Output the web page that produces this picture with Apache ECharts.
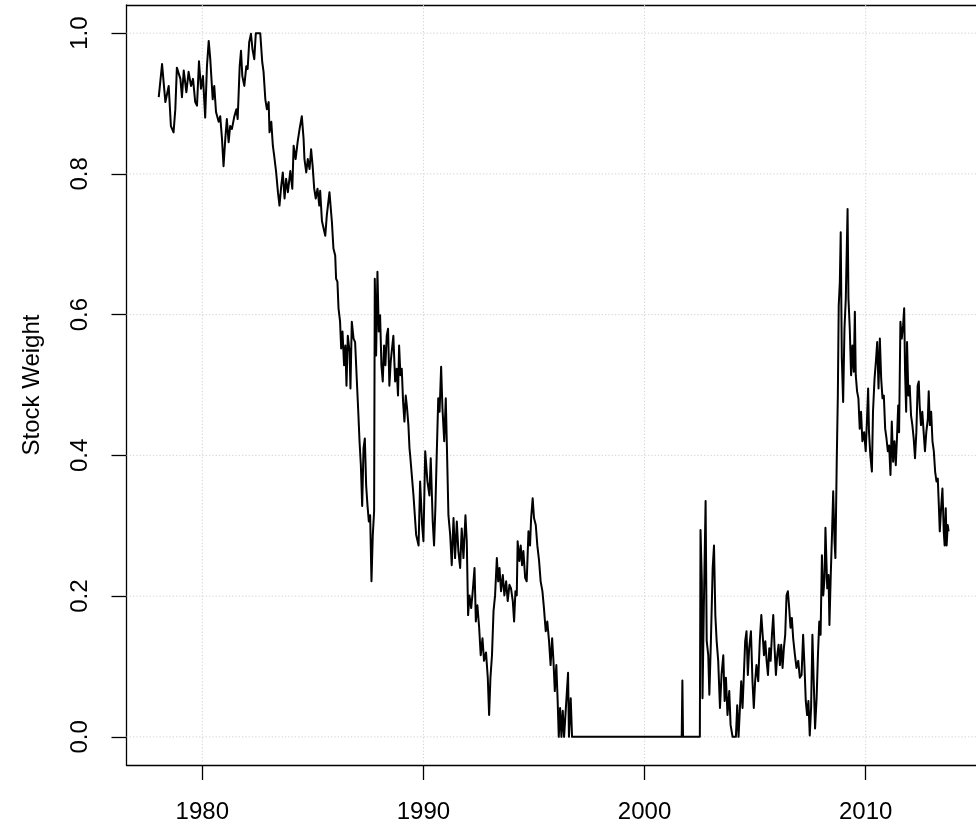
<!DOCTYPE html>
<html>
<head>
<meta charset="utf-8">
<script src="https://cdn.jsdelivr.net/npm/echarts@6/dist/echarts.min.js"></script>
<style>
  html, body { margin: 0; padding: 0; background: #ffffff; }
  #chart { width: 976px; height: 824px; }
</style>
</head>
<body>
<div id="chart"></div>
<script>
// Stock weight of the portfolio over time (decimal years)
const years = [
  1978.03,1978.18,1978.33,1978.48,1978.58,1978.70,1978.78,1978.85,1979.01,1979.08,
  1979.16,1979.28,1979.38,1979.49,1979.58,1979.68,1979.76,1979.85,1979.94,1980.03,
  1980.13,1980.21,1980.29,1980.36,1980.47,1980.54,1980.62,1980.74,1980.81,1980.89,
  1980.96,1981.04,1981.11,1981.19,1981.26,1981.34,1981.45,1981.54,1981.60,1981.69,
  1981.75,1981.81,1981.90,1981.99,1982.05,1982.12,1982.20,1982.27,1982.35,1982.42,
  1982.62,1982.71,1982.77,1982.85,1982.92,1983.00,1983.04,1983.12,1983.19,1983.25,
  1983.34,1983.42,1983.49,1983.57,1983.64,1983.72,1983.79,1983.87,1983.98,1984.07,
  1984.13,1984.22,1984.31,1984.40,1984.50,1984.58,1984.62,1984.70,1984.77,1984.85,
  1984.92,1984.99,1985.06,1985.13,1985.21,1985.29,1985.33,1985.41,1985.56,1985.63,
  1985.75,1985.86,1985.93,1986.01,1986.05,1986.11,1986.16,1986.23,1986.28,1986.34,
  1986.41,1986.47,1986.52,1986.58,1986.66,1986.70,1986.76,1986.84,1986.91,1986.99,
  1987.06,1987.11,1987.17,1987.23,1987.29,1987.35,1987.41,1987.47,1987.53,1987.59,
  1987.65,1987.71,1987.77,1987.80,1987.86,1987.92,1987.98,1988.04,1988.10,1988.16,
  1988.22,1988.28,1988.34,1988.40,1988.46,1988.52,1988.58,1988.64,1988.72,1988.79,
  1988.85,1988.90,1988.96,1989.02,1989.08,1989.14,1989.20,1989.26,1989.32,1989.37,
  1989.40,1989.55,1989.67,1989.78,1989.85,1989.94,1990.00,1990.08,1990.18,1990.27,
  1990.33,1990.42,1990.48,1990.54,1990.60,1990.67,1990.73,1990.80,1990.86,1990.94,
  1991.01,1991.06,1991.13,1991.21,1991.28,1991.36,1991.43,1991.51,1991.58,1991.66,
  1991.73,1991.81,1991.90,1991.96,1992.02,1992.08,1992.16,1992.23,1992.31,1992.37,
  1992.44,1992.52,1992.59,1992.67,1992.74,1992.83,1992.91,1992.97,1993.03,1993.10,
  1993.17,1993.24,1993.32,1993.38,1993.44,1993.51,1993.59,1993.66,1993.74,1993.81,
  1993.89,1993.96,1994.04,1994.10,1994.16,1994.22,1994.26,1994.34,1994.40,1994.46,
  1994.52,1994.60,1994.67,1994.75,1994.82,1994.87,1994.94,1995.00,1995.08,1995.15,
  1995.23,1995.30,1995.38,1995.45,1995.53,1995.60,1995.68,1995.75,1995.82,1995.88,
  1995.94,1996.01,1996.07,1996.12,1996.18,1996.24,1996.30,1996.36,1996.45,1996.54,
  1996.58,1996.66,1996.72,2001.68,2001.71,2001.74,2002.50,2002.53,2002.59,2002.62,
  2002.68,2002.76,2002.81,2002.88,2002.93,2003.00,2003.08,2003.14,2003.20,2003.26,
  2003.33,2003.41,2003.48,2003.56,2003.62,2003.68,2003.75,2003.83,2003.89,2003.98,
  2004.13,2004.19,2004.25,2004.31,2004.37,2004.43,2004.49,2004.55,2004.61,2004.67,
  2004.73,2004.81,2004.88,2004.94,2005.00,2005.06,2005.14,2005.21,2005.28,2005.34,
  2005.40,2005.46,2005.52,2005.58,2005.64,2005.70,2005.76,2005.82,2005.88,2005.94,
  2006.00,2006.06,2006.12,2006.18,2006.24,2006.30,2006.36,2006.42,2006.48,2006.54,
  2006.60,2006.66,2006.72,2006.80,2006.87,2006.95,2007.02,2007.10,2007.17,2007.23,
  2007.29,2007.35,2007.41,2007.47,2007.53,2007.59,2007.65,2007.71,2007.78,2007.84,
  2007.90,2007.96,2008.02,2008.08,2008.14,2008.18,2008.26,2008.32,2008.36,2008.42,
  2008.48,2008.53,2008.59,2008.63,2008.69,2008.74,2008.78,2008.83,2008.87,2008.92,
  2008.98,2009.04,2009.10,2009.18,2009.22,2009.28,2009.34,2009.40,2009.46,2009.51,
  2009.55,2009.61,2009.67,2009.73,2009.79,2009.85,2009.93,2010.00,2010.06,2010.11,
  2010.15,2010.21,2010.28,2010.33,2010.40,2010.46,2010.52,2010.58,2010.64,2010.70,
  2010.76,2010.82,2010.88,2010.94,2011.00,2011.06,2011.12,2011.18,2011.24,2011.30,
  2011.36,2011.42,2011.47,2011.51,2011.57,2011.63,2011.69,2011.74,2011.78,2011.83,
  2011.87,2011.93,2011.99,2012.05,2012.11,2012.17,2012.23,2012.29,2012.35,2012.40,
  2012.44,2012.50,2012.56,2012.62,2012.68,2012.74,2012.81,2012.85,2012.90,2012.96,
  2013.02,2013.08,2013.14,2013.20,2013.26,2013.30,2013.35,2013.41,2013.47,2013.53,
  2013.57,2013.62,2013.66,2013.71,2013.75
];
const weights = [
  0.909,0.956,0.902,0.925,0.868,0.859,0.892,0.951,0.935,0.909,
  0.947,0.916,0.945,0.925,0.935,0.902,0.897,0.960,0.921,0.939,
  0.880,0.953,0.989,0.963,0.906,0.925,0.888,0.874,0.882,0.850,
  0.811,0.850,0.878,0.845,0.868,0.864,0.882,0.892,0.878,0.953,
  0.975,0.939,0.925,0.953,0.949,0.987,0.999,0.977,0.963,1.000,
  1.000,0.959,0.945,0.906,0.892,0.902,0.859,0.874,0.840,0.826,
  0.802,0.774,0.755,0.783,0.802,0.765,0.793,0.774,0.804,0.779,
  0.840,0.821,0.845,0.864,0.882,0.850,0.821,0.802,0.821,0.807,
  0.835,0.811,0.779,0.765,0.779,0.755,0.776,0.733,0.712,0.741,
  0.774,0.732,0.694,0.684,0.651,0.647,0.609,0.590,0.552,0.576,
  0.528,0.556,0.499,0.570,0.547,0.495,0.590,0.566,0.561,0.505,
  0.457,0.420,0.386,0.328,0.410,0.424,0.357,0.329,0.306,0.315,
  0.221,0.287,0.321,0.651,0.542,0.661,0.576,0.599,0.528,0.505,
  0.556,0.528,0.570,0.580,0.499,0.533,0.552,0.570,0.505,0.523,
  0.485,0.556,0.514,0.523,0.476,0.448,0.485,0.467,0.443,0.410,
  0.400,0.343,0.287,0.272,0.363,0.301,0.278,0.406,0.363,0.343,
  0.396,0.306,0.272,0.325,0.400,0.481,0.462,0.526,0.467,0.420,
  0.481,0.414,0.315,0.287,0.244,0.311,0.254,0.306,0.264,0.240,
  0.296,0.254,0.315,0.278,0.173,0.201,0.183,0.207,0.240,0.164,
  0.187,0.155,0.116,0.140,0.108,0.120,0.084,0.031,0.084,0.116,
  0.179,0.201,0.254,0.221,0.240,0.207,0.230,0.201,0.221,0.193,
  0.216,0.211,0.193,0.164,0.207,0.201,0.278,0.250,0.272,0.244,
  0.264,0.226,0.221,0.292,0.272,0.311,0.339,0.311,0.301,0.272,
  0.250,0.221,0.207,0.183,0.150,0.164,0.136,0.102,0.140,0.108,
  0.065,0.102,0.051,0.000,0.041,0.000,0.037,0.000,0.000,0.091,
  0.000,0.055,0.000,0.000,0.080,0.000,0.000,0.294,0.221,0.055,
  0.183,0.335,0.136,0.116,0.060,0.136,0.240,0.272,0.173,0.136,
  0.108,0.041,0.088,0.116,0.051,0.084,0.031,0.065,0.017,0.000,
  0.000,0.045,0.000,0.002,0.079,0.041,0.088,0.136,0.150,0.088,
  0.126,0.150,0.079,0.041,0.079,0.102,0.079,0.136,0.173,0.145,
  0.116,0.136,0.108,0.088,0.126,0.108,0.145,0.173,0.126,0.088,
  0.116,0.131,0.102,0.131,0.098,0.126,0.145,0.201,0.207,0.183,
  0.155,0.169,0.140,0.116,0.098,0.108,0.084,0.088,0.145,0.102,
  0.051,0.031,0.051,0.002,0.041,0.145,0.079,0.012,0.055,0.116,
  0.164,0.145,0.258,0.201,0.226,0.297,0.211,0.230,0.159,0.230,
  0.292,0.349,0.278,0.254,0.391,0.485,0.613,0.646,0.717,0.538,
  0.476,0.580,0.623,0.750,0.623,0.580,0.514,0.556,0.519,0.604,
  0.514,0.491,0.481,0.438,0.462,0.420,0.433,0.406,0.452,0.495,
  0.433,0.400,0.377,0.462,0.509,0.533,0.561,0.495,0.566,0.509,
  0.481,0.485,0.438,0.424,0.406,0.414,0.372,0.448,0.391,0.420,
  0.386,0.429,0.471,0.433,0.590,0.566,0.584,0.609,0.519,0.462,
  0.561,0.485,0.499,0.457,0.443,0.424,0.396,0.433,0.499,0.505,
  0.471,0.443,0.462,0.433,0.406,0.433,0.452,0.491,0.443,0.462,
  0.420,0.406,0.377,0.363,0.367,0.335,0.292,0.325,0.353,0.292,
  0.272,0.325,0.272,0.301,0.292
];
const xTicks = [1980, 1990, 2000, 2010];
const yTicks = [0, 0.2, 0.4, 0.6, 0.8, 1.0];

const X_MIN = 1976.572, X_MAX = 2014.988;
const Y_MIN = -0.04, Y_MAX = 1.04;
const FONT = '"Liberation Sans", Arial, Helvetica, sans-serif';
const INK = '#000000';
const GRID_COLOR = '#d3d3d3';

const chart = echarts.init(document.getElementById('chart'), null, { renderer: 'canvas' });

const seriesData = years.map((y, i) => [y, weights[i]]);

// dotted reference lines at every labelled tick
const gridSeries = [];
yTicks.forEach(v => gridSeries.push({
  type: 'line', silent: true, symbol: 'none', z: 1, animation: false,
  data: [[X_MIN, v], [X_MAX, v]],
  lineStyle: { color: GRID_COLOR, width: 1, type: [1.3, 2] }
}));
xTicks.forEach(v => gridSeries.push({
  type: 'line', silent: true, symbol: 'none', z: 1, animation: false,
  data: [[v, Y_MIN], [v, Y_MAX]],
  lineStyle: { color: GRID_COLOR, width: 1, type: [1.3, 2] }
}));

const axisLineStyle = { color: INK, width: 1.3 };

chart.setOption({
  animation: false,
  backgroundColor: '#ffffff',
  grid: { left: 126.5, right: 0, top: 5, bottom: 57, containLabel: false },
  xAxis: [
    {
      type: 'value', min: X_MIN, max: X_MAX, position: 'bottom',
      axisLine: { show: true, onZero: false, lineStyle: axisLineStyle },
      axisTick: { show: true, customValues: xTicks, length: 15, lineStyle: axisLineStyle },
      axisLabel: {
        customValues: xTicks, margin: 35, color: INK, fontSize: 24, fontFamily: FONT,
        formatter: v => String(Math.round(v))
      },
      splitLine: { show: false }
    },
    {
      type: 'value', min: X_MIN, max: X_MAX, position: 'top',
      axisLine: { show: true, onZero: false, lineStyle: axisLineStyle },
      axisTick: { show: false }, axisLabel: { show: false }, splitLine: { show: false }
    }
  ],
  yAxis: {
    type: 'value', min: Y_MIN, max: Y_MAX, position: 'left',
    axisLine: { show: true, onZero: false, lineStyle: axisLineStyle },
    axisTick: { show: true, customValues: yTicks, length: 15, lineStyle: axisLineStyle },
    axisLabel: {
      customValues: yTicks, rotate: 90, margin: 34, color: INK, fontSize: 24, fontFamily: FONT,
      formatter: v => v.toFixed(1)
    },
    splitLine: { show: false },
    name: 'Stock Weight', nameLocation: 'middle', nameGap: 82,
    nameTextStyle: { color: INK, fontSize: 24, fontFamily: FONT }
  },
  series: gridSeries.concat([{
    type: 'line', name: 'Stock Weight', z: 3,
    data: seriesData, symbol: 'none', showSymbol: false, sampling: null,
    lineStyle: { color: INK, width: 2, join: 'round' }
  }])
});
</script>
</body>
</html>
